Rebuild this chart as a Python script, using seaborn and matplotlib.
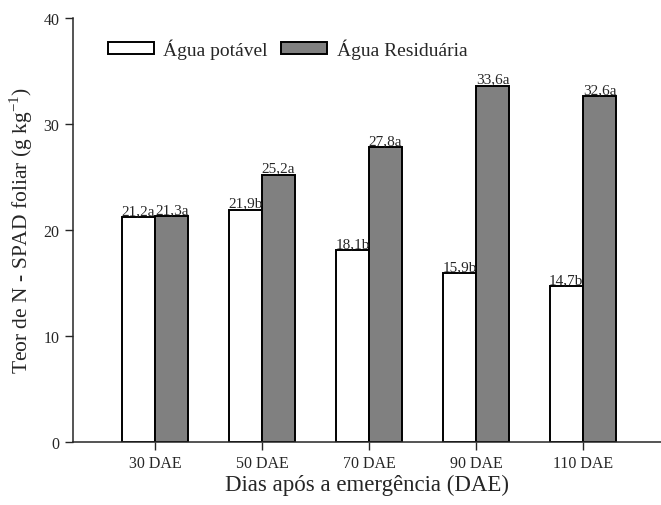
import pandas as pd
import seaborn as sns
import matplotlib.pyplot as plt

# dados
dias = ["30 DAE", "50 DAE", "70 DAE", "90 DAE", "110 DAE"]
potavel = [21.2, 21.9, 18.1, 15.9, 14.7]
residuaria = [21.3, 25.2, 27.8, 33.6, 32.6]
letras_potavel = ["a", "b", "b", "b", "b"]
letras_residuaria = ["a", "a", "a", "a", "a"]
tratamentos = ["Água potável", "Água Residuária"]

df = pd.DataFrame({
    "Dias": dias * 2,
    "Teor": potavel + residuaria,
    "Tratamento": [tratamentos[0]] * len(dias) + [tratamentos[1]] * len(dias),
})

sns.set_style("ticks")
plt.rcParams["font.family"] = ["Liberation Serif", "DejaVu Serif"]

fig = plt.figure(figsize=(6.61, 5.06), dpi=100)
ax = fig.add_axes([0.110, 0.125, 0.89, 0.838])

sns.barplot(data=df, x="Dias", y="Teor", hue="Tratamento", order=dias,
            hue_order=tratamentos, palette=["white", "#808080"],
            width=0.62, edgecolor="black", linewidth=1.4, ax=ax)

# rótulos das barras
for cont, vals, letras in zip(ax.containers, [potavel, residuaria],
                              [letras_potavel, letras_residuaria]):
    labels = [f"{v:.1f}".replace(".", ",") + l for v, l in zip(vals, letras)]
    ax.bar_label(cont, labels=labels, padding=0, fontsize=11)

ax.set_xlim(-0.77, 4.73)
ax.set_ylim(0, 40)
ax.set_yticks([0, 10, 20, 30, 40])
ax.set_xlabel("Dias após a emergência (DAE)", fontsize=16.5, labelpad=2)
ax.set_ylabel("Teor de N - SPAD foliar (g kg$^{\\mathregular{-1}}$)", fontsize=15.5,
              labelpad=6)
ax.tick_params(axis="both", labelsize=11.5, length=6, width=1, direction="out")
for s in ["left", "bottom"]:
    ax.spines[s].set_linewidth(1.1)
sns.despine(ax=ax)

ax.legend(loc="upper left", bbox_to_anchor=(0.03, 0.993), ncol=2, frameon=False,
          fontsize=14, handlelength=2.35, handleheight=0.57, columnspacing=0.7,
          handletextpad=0.5)

plt.savefig("out.png", dpi=100)
